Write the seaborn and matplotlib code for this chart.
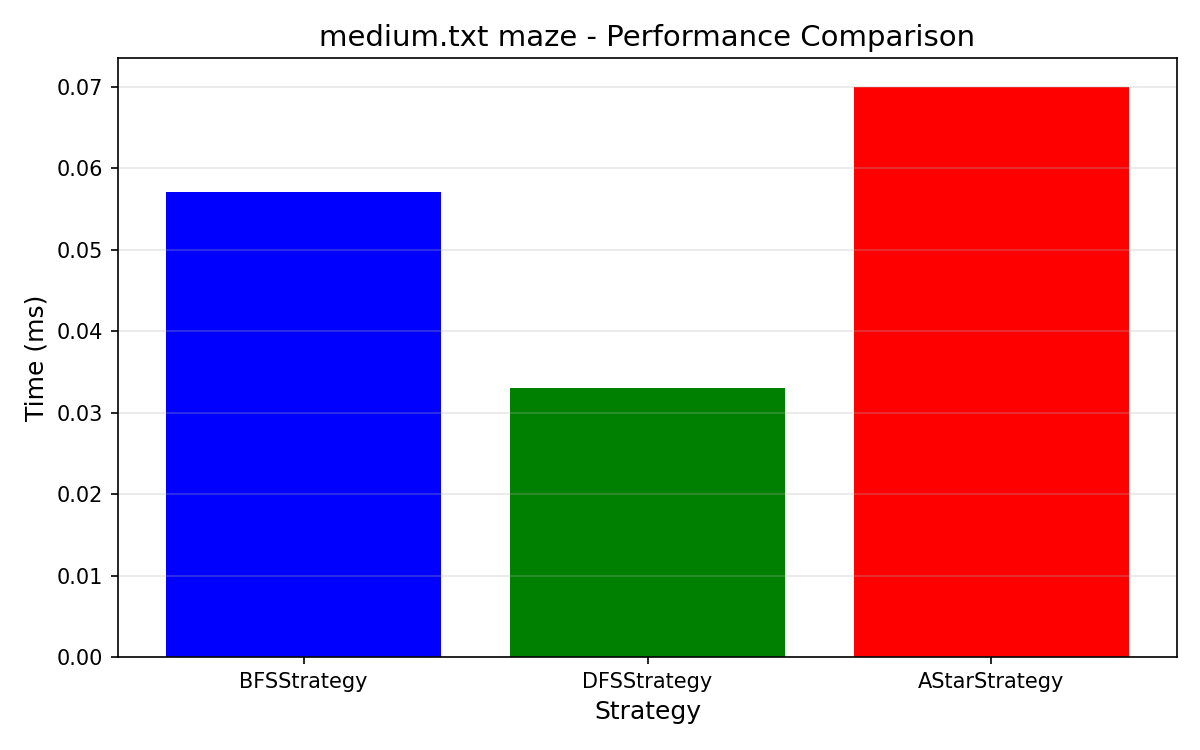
import matplotlib
matplotlib.use("Agg")
import matplotlib.pyplot as plt
import seaborn as sns
import pandas as pd

strategies = ["BFSStrategy", "DFSStrategy", "AStarStrategy"]
times_ms = [0.057, 0.033, 0.070]
bar_colors = ["blue", "green", "red"]

df = pd.DataFrame({"Strategy": strategies, "Time": times_ms})

fig, ax = plt.subplots(figsize=(8, 5), dpi=150)
sns.barplot(data=df, x="Strategy", y="Time", hue="Strategy",
            palette=bar_colors, saturation=1, width=0.8, legend=False, ax=ax)
ax.set_xlim(-0.54, 2.54)
ax.set_title("medium.txt maze - Performance Comparison", fontsize=14)
ax.set_xlabel("Strategy", fontsize=12)
ax.set_ylabel("Time (ms)", fontsize=12)
ax.grid(axis="y", alpha=0.3)
fig.subplots_adjust(left=118/1200, right=1177/1200, top=1-58/750, bottom=1-657/750)
fig.savefig("out.png", dpi=150)
